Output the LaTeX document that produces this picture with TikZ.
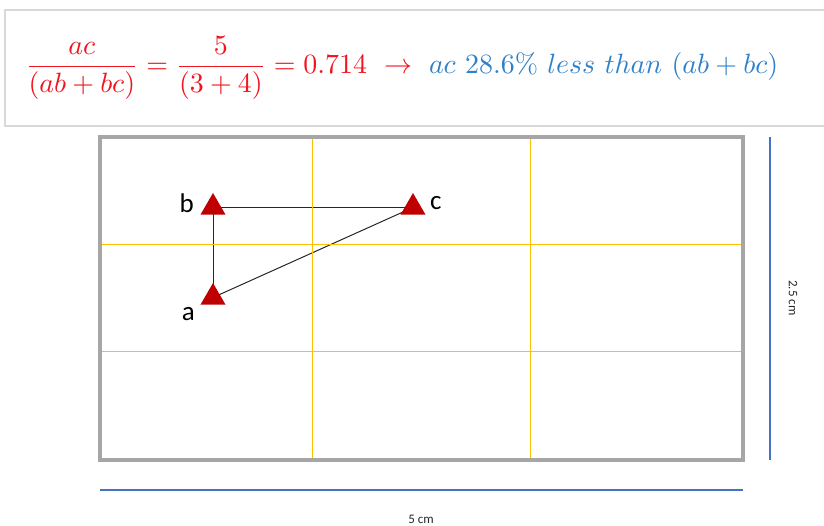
\documentclass[tikz,border=0pt]{standalone}
\usepackage{amsmath}
\usepackage{fontspec}
\newfontfamily\calib{Carlito}
\usetikzlibrary{shapes.geometric,backgrounds}
\definecolor{frmred}{HTML}{F0141E}
\definecolor{frmblue}{HTML}{2E80C8}
\definecolor{gridorange}{HTML}{FFC000}
\definecolor{framegray}{HTML}{A6A6A6}
\definecolor{boxgray}{HTML}{D9D9D9}
\definecolor{dimblue}{HTML}{4472C4}
\definecolor{tridred}{HTML}{C00000}
\tikzset{
  pt/.style={regular polygon, regular polygon sides=3, minimum size=29pt, inner sep=0pt, fill=tridred, draw=none},
  lbl/.style={font=\calib\fontsize{27}{29}\selectfont, inner sep=0pt, text=black},
  dimlbl/.style={font=\calib\fontsize{13}{15}\selectfont, inner sep=0pt, text=black!85},
  conn/.style={draw=black!85, line width=1pt},
  gridl/.style={draw=gridorange, line width=1pt},
  dim/.style={draw=dimblue, line width=1.2pt}
}
\begin{document}
\begin{tikzpicture}[x=1pt,y=-1pt]
\useasboundingbox (0,0) rectangle (824,526);
% formula box
\draw[boxgray, line width=1.2pt] (830,10) -- (5,10) -- (5,126) -- (830,126);
\node[anchor=west, inner sep=0pt] (formula) at (25,68) {\resizebox{753pt}{!}{$\color{frmred}\dfrac{ac}{(ab+bc)} = \dfrac{5}{(3+4)} = 0.714\ \to \color{frmblue}\ ac\ 28.6\%\ less\ than\ (ab+bc)$}};
% grid
\draw[gridl] (312,137) -- (312,460);
\draw[gridl] (530,137) -- (530,460);
\draw[gridl] (100,245) -- (743,245);
\draw[gridl] (100,351) -- (743,351);
\draw[framegray, line width=4pt] (100,137) rectangle (743,460);
% points
\node[pt] (b) at (213,207.5) {};
\node[pt] (c) at (413,207.5) {};
\node[pt] (a) at (213,297.5) {};
\begin{scope}[on background layer]
\draw[conn] (a.center) -- (b.center);
\draw[conn] (b.center) -- (c.center);
\draw[conn] (a.center) -- (c.center);
\end{scope}
\node[lbl, anchor=east] (lb) at (194,203) {b};
\node[lbl, anchor=west] (lc) at (430,203) {c};
\node[lbl, anchor=east] (la) at (195,314) {a};
% dimensions
\coordinate (v1) at (770,137);
\coordinate (v2) at (770,460);
\draw[dim] (v1) -- (v2);
\coordinate (h1) at (100,490);
\coordinate (h2) at (743,490);
\draw[dim] (h1) -- (h2);
\node[dimlbl, rotate=-90] (dv) at (793,298) {2.5 cm};
\node[dimlbl] (dh) at (421,519) {5 cm};
\end{tikzpicture}
\end{document}
